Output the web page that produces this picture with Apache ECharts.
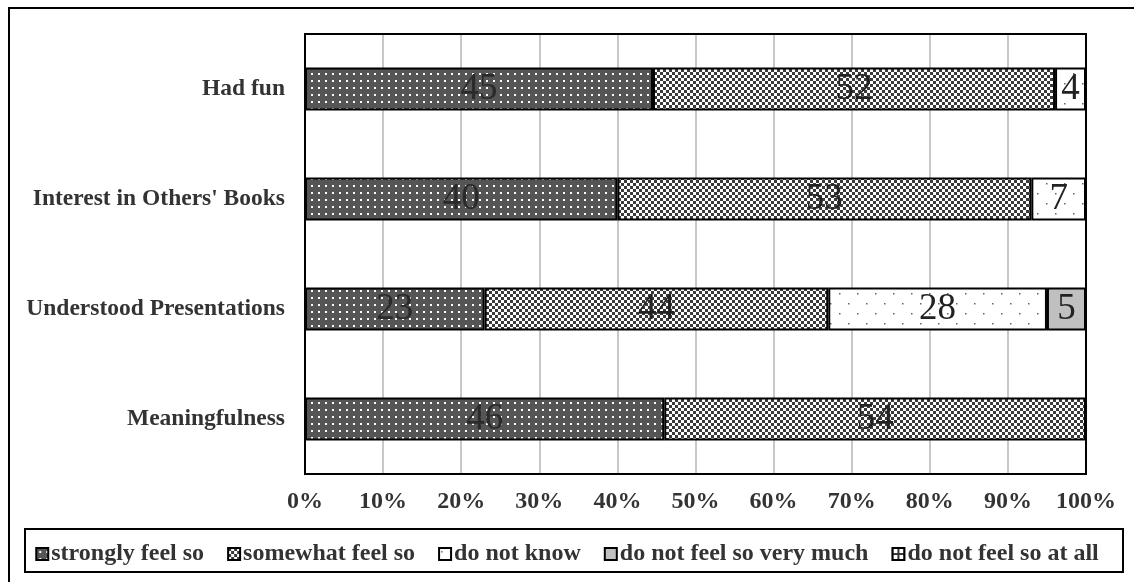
<!DOCTYPE html>
<html>
<head>
<meta charset="utf-8">
<script src="https://cdn.jsdelivr.net/npm/echarts@6/dist/echarts.min.js"></script>
<style>
  html, body { margin: 0; padding: 0; background: #fff; }
  #chart { width: 1134px; height: 582px; }
</style>
</head>
<body>
<div id="chart"></div>
<script>
// Survey responses (number of respondents per answer)
const categories = ['Had fun', "Interest in Others' Books", 'Understood Presentations', 'Meaningfulness'];
const seriesNames = ['strongly feel so', 'somewhat feel so', 'do not know', 'do not feel so very much', 'do not feel so at all'];
const stronglyFeelSo = [45, 40, 23, 46];
const somewhatFeelSo = [52, 53, 44, 54];
const doNotKnow = [4, 7, 28, 0];
const notVeryMuch = [0, 0, 5, 0];
const notAtAll = [0, 0, 0, 0];
const xTickLabels = ['0%', '10%', '20%', '30%', '40%', '50%', '60%', '70%', '80%', '90%', '100%'];

const seriesValues = [stronglyFeelSo, somewhatFeelSo, doNotKnow, notVeryMuch, notAtAll];

// Row totals for the 100% stacked layout
const totals = categories.map((_, i) => seriesValues.reduce((s, arr) => s + arr[i], 0));

// Plot area in pixels
const G = { left: 305, right: 48, top: 34, bottom: 108 };
const W = 1134, H = 582;

// Fill patterns drawn on small canvases
function makePattern(w, h, draw) {
  const c = document.createElement('canvas');
  c.width = w; c.height = h;
  const ctx = c.getContext('2d');
  draw(ctx, w, h);
  return { image: c, repeat: 'repeat' };
}
const patterns = [
  // dark grey with white dots
  makePattern(7, 7, (ctx, w, h) => {
    ctx.fillStyle = '#555555'; ctx.fillRect(0, 0, w, h);
    ctx.fillStyle = '#ffffff'; ctx.fillRect(3, 3, 2, 2);
  }),
  // fine checkerboard
  makePattern(6, 6, (ctx, w, h) => {
    ctx.fillStyle = '#ffffff'; ctx.fillRect(0, 0, w, h);
    ctx.fillStyle = '#3a3a3a'; ctx.fillRect(0, 0, 3, 3); ctx.fillRect(3, 3, 3, 3);
  }),
  // white with sparse dots
  makePattern(18, 20, (ctx, w, h) => {
    ctx.fillStyle = '#ffffff'; ctx.fillRect(0, 0, w, h);
    ctx.fillStyle = '#666666';
    ctx.fillRect(2, 3, 1.5, 1.5); ctx.fillRect(11, 13, 1.5, 1.5);
  }),
  // plain light grey
  '#c0c0c0',
  // coarse open grid
  makePattern(6, 6, (ctx, w, h) => {
    ctx.fillStyle = '#333333'; ctx.fillRect(0, 0, w, h);
    ctx.fillStyle = '#ffffff'; ctx.fillRect(1, 1, 4, 4);
  })
];

const series = seriesNames.map((name, s) => ({
  name: name,
  type: 'bar',
  stack: 'total',
  barWidth: 43,
  data: categories.map((_, i) => {
    const v = seriesValues[s][i];
    return v ? { value: v / totals[i] * 100, raw: v } : null;
  }),
  itemStyle: { color: patterns[s], borderColor: '#000', borderWidth: 2 },
  label: {
    show: true,
    position: 'inside',
    fontFamily: 'Liberation Serif',
    fontSize: 37,
    color: s === 0 ? '#2a2a2a' : '#222',
    formatter: p => (p.data && p.data.raw ? String(p.data.raw) : '')
  },
  emphasis: { disabled: true }
}));

const chart = echarts.init(document.getElementById('chart'), null, { renderer: 'canvas' });
chart.setOption({
  animation: false,
  backgroundColor: '#fff',
  grid: {
    left: G.left, right: G.right, top: G.top, bottom: G.bottom,
    show: true, borderWidth: 0, backgroundColor: '#fff',
    containLabel: false
  },
  xAxis: {
    type: 'value',
    min: 0, max: 100, interval: 10,
    axisLine: { show: false },
    axisTick: { show: false },
    splitLine: { show: true, lineStyle: { color: '#c8c8c8', width: 2 } },
    axisLabel: {
      margin: 16,
      fontFamily: 'Liberation Serif', fontWeight: 'bold', fontSize: 24, color: '#333',
      formatter: (v) => xTickLabels[Math.round(v / 10)]
    }
  },
  yAxis: {
    type: 'category',
    inverse: true,
    data: categories,
    axisLine: { show: false },
    axisTick: { show: false },
    axisLabel: {
      margin: 20,
      fontFamily: 'Liberation Serif', fontWeight: 'bold', fontSize: 23.5, color: '#333'
    }
  },
  legend: {
    left: 'center',
    top: 537,
    itemWidth: 12,
    itemHeight: 12,
    itemGap: 23,
    icon: 'rect',
    selectedMode: false,
    textStyle: { fontFamily: 'Liberation Serif', fontWeight: 'bold', fontSize: 24, color: '#333', padding: [0, 0, 0, -2] },
    itemStyle: { borderColor: '#000', borderWidth: 2 },
    data: seriesNames
  },
  graphic: [
    // outer frame
    { type: 'rect', shape: { x: 9, y: 8, width: 1140, height: 600 }, style: { fill: null, stroke: '#000', lineWidth: 2 }, silent: true },
    // plot frame
    { type: 'rect', z: 100, shape: { x: G.left, y: G.top, width: W - G.left - G.right, height: H - G.top - G.bottom }, style: { fill: null, stroke: '#000', lineWidth: 2 }, silent: true },
    // legend frame
    { type: 'rect', shape: { x: 25, y: 529, width: 1098, height: 43 }, style: { fill: null, stroke: '#000', lineWidth: 2 }, silent: true }
  ],
  series: series
});
</script>
</body>
</html>
